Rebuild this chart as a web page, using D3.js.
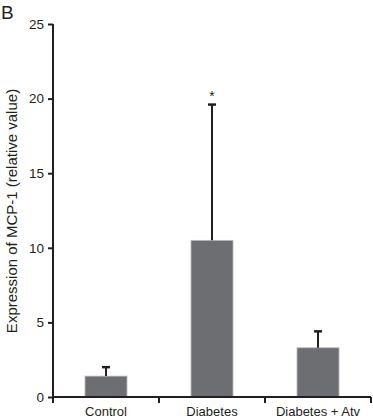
<!DOCTYPE html>
<html>
<head>
<meta charset="utf-8">
<script src="https://cdn.jsdelivr.net/npm/d3@7"></script>
<style>
  body { margin: 0; background: #fff; }
  svg text { font-family: "Liberation Sans", Arial, sans-serif; fill: #231f20; }
</style>
</head>
<body>
<div id="chart"></div>
<script>
// chart data
var groups = ["Control", "Diabetes", "Diabetes + Atv"];
var means = [1.4, 10.5, 3.3];
var errUpper = [2.0, 19.6, 4.4];
var significant = [false, true, false];
var yTicks = [0, 5, 10, 15, 20, 25];

var width = 373, height = 418;
// plot edges (note: "top" is a reserved window global, so prefix these)
var plotLeft = 53, plotRight = 371, plotTop = 24, plotBottom = 397;

var svg = d3.select("#chart").append("svg")
  .attr("width", width)
  .attr("height", height);

var x = d3.scaleBand().domain(groups).range([plotLeft, plotRight]).paddingInner(0).paddingOuter(0);
var y = d3.scaleLinear().domain([0, 25]).range([plotBottom, plotTop]);

var barW = 42;

// bars
svg.selectAll("rect.bar").data(groups).enter().append("rect")
  .attr("class", "bar")
  .attr("x", function(d) { return x(d) + x.bandwidth() / 2 - barW / 2; })
  .attr("y", function(d, i) { return y(means[i]); })
  .attr("width", barW)
  .attr("height", function(d, i) { return plotBottom - y(means[i]); })
  .attr("fill", "#6d6e71")
  .attr("stroke", "#b8b9bb")
  .attr("stroke-width", 0.8);

// error bars (upper only)
var eb = svg.selectAll("g.err").data(groups).enter().append("g");
eb.append("line")
  .attr("x1", function(d) { return x(d) + x.bandwidth() / 2; })
  .attr("x2", function(d) { return x(d) + x.bandwidth() / 2; })
  .attr("y1", function(d, i) { return y(means[i]); })
  .attr("y2", function(d, i) { return y(errUpper[i]); })
  .attr("stroke", "#231f20").attr("stroke-width", 2);
eb.append("line")
  .attr("x1", function(d) { return x(d) + x.bandwidth() / 2 - 4; })
  .attr("x2", function(d) { return x(d) + x.bandwidth() / 2 + 4; })
  .attr("y1", function(d, i) { return y(errUpper[i]); })
  .attr("y2", function(d, i) { return y(errUpper[i]); })
  .attr("stroke", "#231f20").attr("stroke-width", 2.5);

// significance star
svg.selectAll("text.star").data(groups.filter(function(d, i) { return significant[i]; }))
  .enter().append("text")
  .attr("x", function(d) { return x(d) + x.bandwidth() / 2; })
  .attr("y", function(d) { return y(errUpper[groups.indexOf(d)]) - 4; })
  .attr("text-anchor", "middle")
  .attr("font-size", 14)
  .text("*");

// y axis
var yAxis = svg.append("g")
  .attr("transform", "translate(" + plotLeft + ",0)")
  .call(d3.axisLeft(y).tickValues(yTicks).tickSize(5).tickPadding(4));
yAxis.select(".domain").remove();
yAxis.append("line")
  .attr("x1", 0).attr("x2", 0)
  .attr("y1", plotTop).attr("y2", plotBottom + 6)
  .attr("stroke", "#231f20").attr("stroke-width", 2);
yAxis.selectAll(".tick line").attr("stroke", "#231f20").attr("stroke-width", 2);
yAxis.selectAll(".tick text").attr("font-size", 13.5).style("fill", "#231f20");

// x axis with ticks at band boundaries
var xg = svg.append("g");
xg.append("line")
  .attr("x1", plotLeft).attr("x2", plotRight)
  .attr("y1", plotBottom).attr("y2", plotBottom)
  .attr("stroke", "#231f20").attr("stroke-width", 2);
xg.selectAll("line.bt").data(groups).enter().append("line")
  .attr("x1", function(d) { return x(d) + x.bandwidth(); })
  .attr("x2", function(d) { return x(d) + x.bandwidth(); })
  .attr("y1", plotBottom).attr("y2", plotBottom + 6)
  .attr("stroke", "#231f20").attr("stroke-width", 2);
xg.selectAll("text").data(groups).enter().append("text")
  .attr("x", function(d) { return x(d) + x.bandwidth() / 2; })
  .attr("y", 416)
  .attr("text-anchor", "middle")
  .attr("font-size", 13)
  .text(function(d) { return d; });

// y axis title
svg.append("text")
  .attr("transform", "translate(17,211)rotate(-90)")
  .attr("text-anchor", "middle")
  .attr("font-size", 15)
  .text("Expression of MCP-1 (relative value)");

// panel label
svg.append("text")
  .attr("x", 1).attr("y", 19)
  .attr("font-size", 19)
  .text("B");
</script>
</body>
</html>
